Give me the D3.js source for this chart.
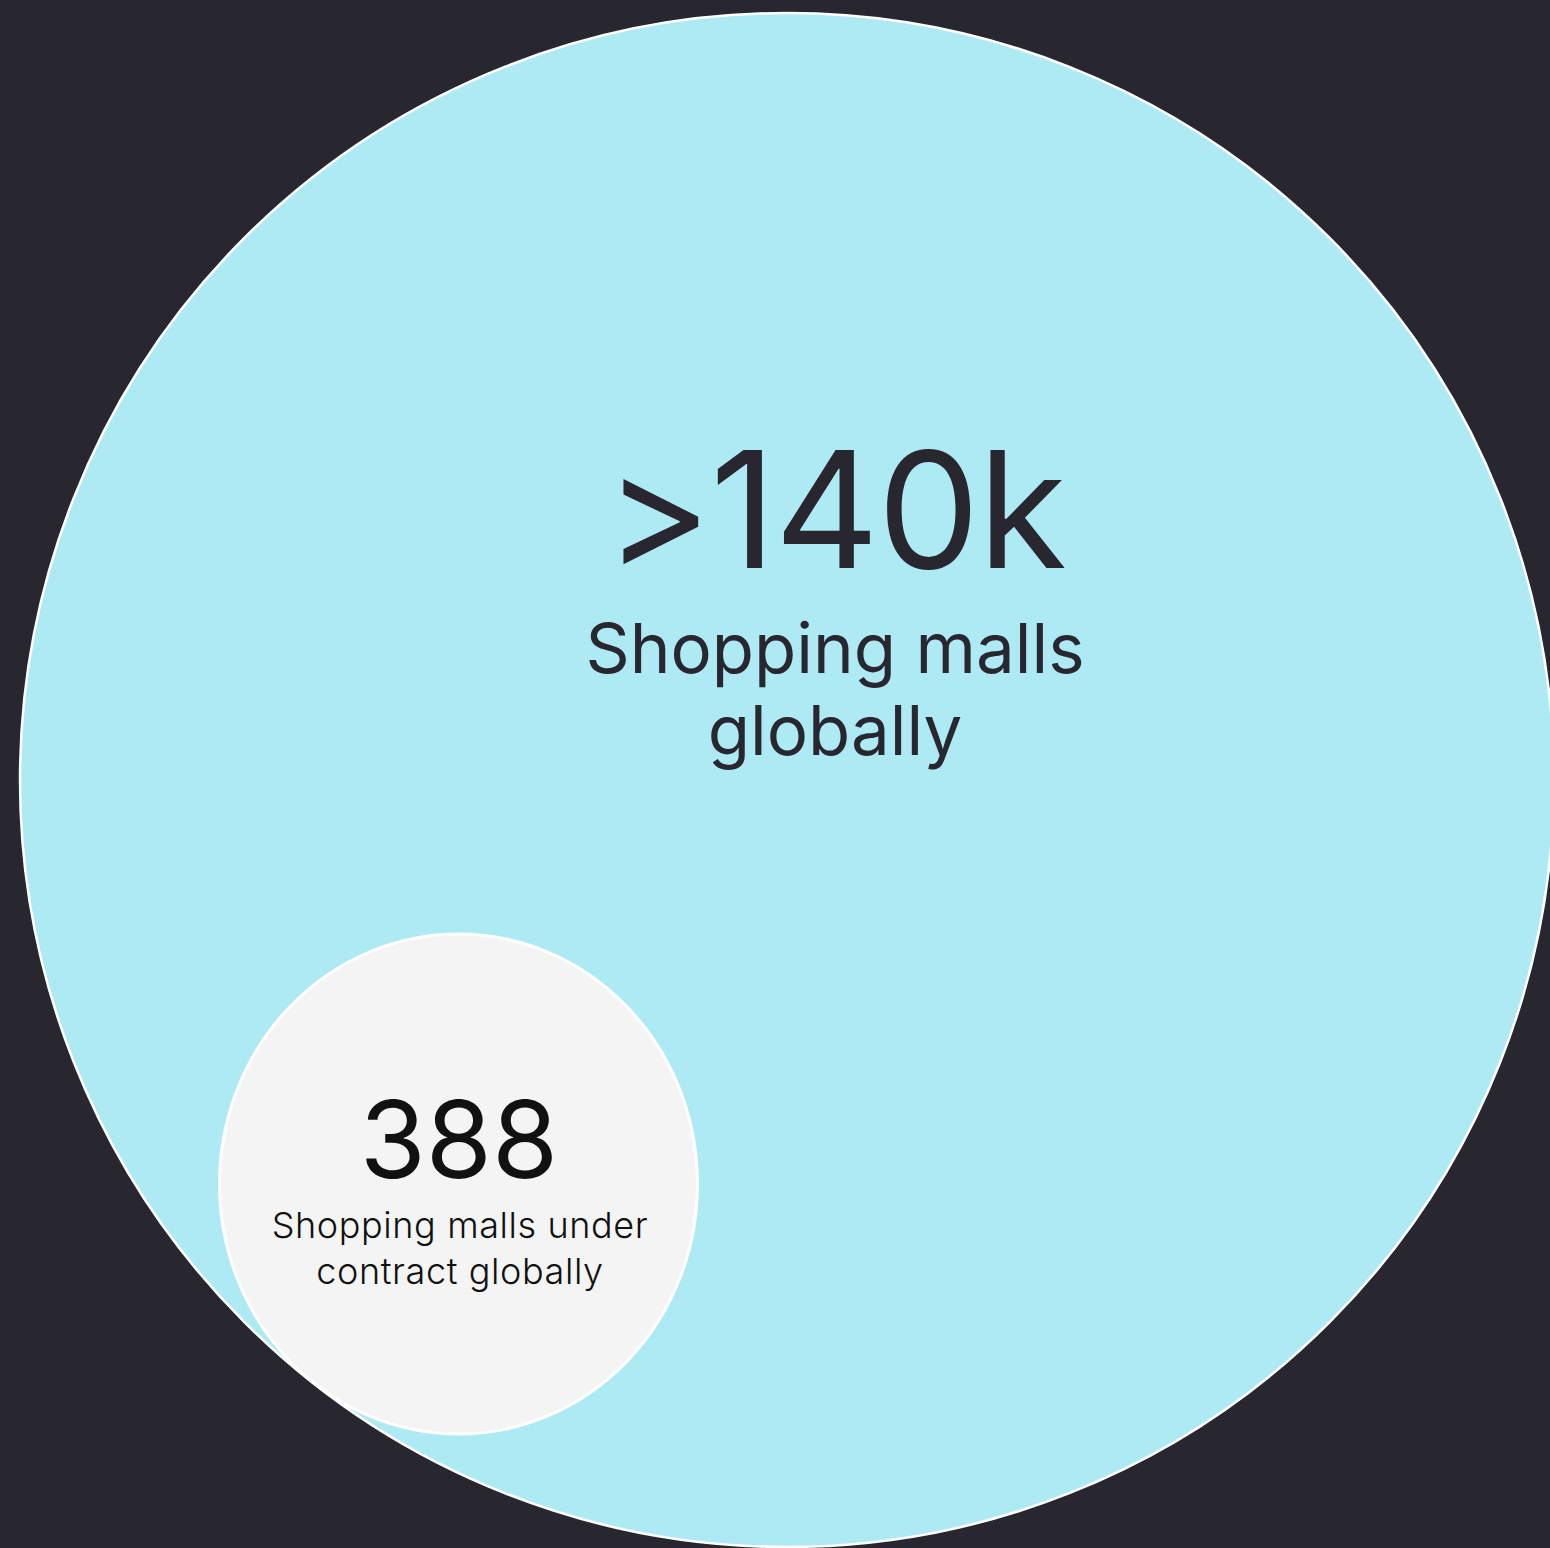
<!DOCTYPE html>
<html>
<head>
<meta charset="utf-8">
<script src="https://cdn.jsdelivr.net/npm/d3@7"></script>
<style>
html,body{margin:0;padding:0;background:#28262f;overflow:hidden;}
svg{display:block;}
text{font-family:Inter,"Noto Sans",sans-serif;}
</style>
</head>
<body>
<svg id="chart" width="1550" height="1548"></svg>
<script>
// Data
const bubbleNames = ["All malls", "Under contract"];
const bubbleValues = [">140k", "388"];
const bubbleLabelLines = [["Shopping malls", "globally"], ["Shopping malls under", "contract globally"]];

const W = 1550, H = 1548;
const svg = d3.select("#chart");
svg.append("rect").attr("width", W).attr("height", H).attr("fill", "#28262f");

// Layout
const layout = [
  {cx: 787, cy: 780, rx: 767, ry: 767, fill: "#aeeaf4", tx: 835, vy: 568, vSize: 162, vLs: -1.7, vWeight: 400, vColor: "#28262f",
   lx: 835, ly: 673, lSize: 69, lStep: 82, lLs: 0, lWeight: 400, lColor: "#28262f", sw: 2.5},
  {cx: 458.5, cy: 1184, rx: 239, ry: 250, fill: "#f4f4f4", tx: 459, vy: 1178, vSize: 107, vLs: 0, vWeight: 400, vColor: "#111111",
   lx: 460, ly: 1238, lSize: 36, lStep: 46, lLs: 0.6, lWeight: 300, lColor: "#111111", sw: 3}
];

const nodes = bubbleNames.map((n, i) => ({name: n, value: bubbleValues[i], lines: bubbleLabelLines[i], ...layout[i]}));

const g = svg.selectAll("g.bubble").data(nodes).join("g").attr("class", "bubble");

g.append("ellipse")
  .attr("cx", d => d.cx).attr("cy", d => d.cy)
  .attr("rx", d => d.rx).attr("ry", d => d.ry)
  .attr("fill", d => d.fill)
  .attr("stroke", "#ffffff")
  .attr("stroke-width", d => d.sw);

g.append("text")
  .attr("x", d => d.tx).attr("y", d => d.vy)
  .attr("text-anchor", "middle")
  .attr("font-size", d => d.vSize)
  .attr("font-weight", d => d.vWeight)
  .attr("letter-spacing", d => d.vLs)
  .attr("fill", d => d.vColor)
  .text(d => d.value);

g.each(function(d) {
  d3.select(this).selectAll("text.lbl").data(d.lines).join("text")
    .attr("class", "lbl")
    .attr("x", d.lx)
    .attr("y", (t, j) => d.ly + j * d.lStep)
    .attr("text-anchor", "middle")
    .attr("font-size", d.lSize)
    .attr("font-weight", d.lWeight)
    .attr("letter-spacing", d.lLs)
    .attr("fill", d.lColor)
    .text(t => t);
});
</script>
</body>
</html>
